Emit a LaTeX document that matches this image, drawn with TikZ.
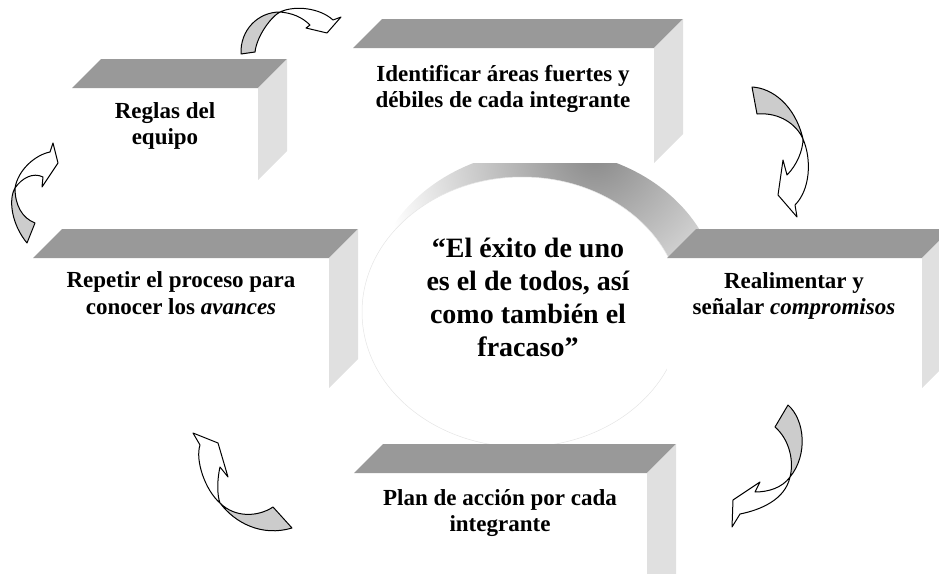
\documentclass[tikz,border=0pt]{standalone}
\usepackage{fontspec}
\setmainfont{Liberation Serif}
\definecolor{facetop}{HTML}{999999}
\definecolor{faceside}{HTML}{E0E0E0}
\definecolor{backside}{HTML}{CCCCCC}
\definecolor{ringdark}{HTML}{888888}
\usetikzlibrary{positioning}

\begin{document}
\begin{tikzpicture}[x=1pt,y=-1pt,
    boxtext/.style={font=\fontsize{23}{26.5}\selectfont\bfseries,align=center,inner sep=0pt},
    quotetext/.style={font=\fontsize{28}{33}\selectfont\bfseries,align=center,inner sep=0pt},
    bentarrow/.style={draw=black,line width=1pt,line join=round}]
    \useasboundingbox (0,0) rectangle (939,573);
    \clip (0,0) rectangle (939,573);
    % shaded disc behind the boxes
    \begin{scope}
        \clip (545,300) ellipse [x radius=175,y radius=150];
        \shade[inner color=ringdark,outer color=white] (595,150) circle (215);
    \end{scope}
    \fill[white] (522,312) ellipse [x radius=160,y radius=135];
    \draw[black!10,line width=0.5pt] (522,312) ellipse [x radius=160,y radius=135];
    % the five prisms: front, top and side faces
    \foreach \xa/\ya/\xb/\yb in {72/88/258/180, 353/48/654/163, 33/258/329/388, 667/258/922/388, 354/473/647/620}{
        \fill[white] (\xa,\ya) rectangle (\xb,\yb);
        \fill[facetop] (\xa,\ya) -- (\xb,\ya) -- (\xb+29,\ya-29) -- (\xa+29,\ya-29) -- cycle;
        \fill[faceside] (\xb,\ya) -- (\xb+29,\ya-29) -- (\xb+29,\yb-29) -- (\xb,\yb) -- cycle;
    }
    \node[boxtext] (reglas) at (165,126) {Reglas del\\equipo};
    \node[boxtext] (identificar) at (503,89) {Identificar áreas fuertes y\\débiles de cada integrante};
    \node[boxtext] (repetir) at (181,293) {Repetir el proceso para\\conocer los \textit{avances}};
    \node[boxtext] (realimentar) at (794,296) {Realimentar y\\señalar \textit{compromisos}};
    \node[boxtext] (plan) at (500,513) {Plan de acción por cada\\integrante};
    \node[quotetext] (lema) at (528,297) {“El éxito de uno\\es el de todos, así\\como también el\\fracaso”};
    % curved arrows, back of the band in gray
    \filldraw[bentarrow,fill=backside] (241,54) .. controls (240,30) and (258,12) .. (280,12) .. controls (272,16) and (257,35) .. (255,52) -- cycle;
    \filldraw[bentarrow,fill=white] (280,12) .. controls (295,5) and (320,8) .. (333,20) -- (341,17) -- (327,33) -- (306,28) -- (310,25) .. controls (302,17) and (292,13) .. (280,12) -- cycle;
    \filldraw[bentarrow,fill=backside] (752,87) .. controls (772,88) and (795,105) .. (803,139) .. controls (797,125) and (780,112) .. (757,114) -- cycle;
    \filldraw[bentarrow,fill=white] (803,139) .. controls (812,160) and (810,190) .. (795,205) -- (797,217) -- (778,195) -- (783,160) -- (787,175) .. controls (797,165) and (803,150) .. (803,139) -- cycle;
    \filldraw[bentarrow,fill=backside] (788,405) .. controls (805,420) and (808,455) .. (790,477) .. controls (794,462) and (790,440) .. (775,427) -- cycle;
    \filldraw[bentarrow,fill=white] (790,477) .. controls (782,488) and (768,492) .. (755,492) -- (760,482) -- (733,500) -- (732,527) -- (740,514) .. controls (760,510) and (785,500) .. (790,477) -- cycle;
    \filldraw[bentarrow,fill=backside] (273,507) .. controls (258,517) and (235,518) .. (220,503) .. controls (235,523) and (262,537) .. (292,528) -- cycle;
    \filldraw[bentarrow,fill=white] (220,503) .. controls (205,490) and (195,460) .. (200,445) -- (193,433) -- (218,443) -- (228,477) -- (220,467) .. controls (217,480) and (217,495) .. (220,503) -- cycle;
    \filldraw[bentarrow,fill=backside] (27,243) .. controls (12,225) and (8,200) .. (15,188) .. controls (15,205) and (22,218) .. (35,223) -- cycle;
    \filldraw[bentarrow,fill=white] (15,188) .. controls (18,170) and (35,155) .. (50,152) -- (53,143) -- (58,163) -- (42,187) -- (43,177) .. controls (33,172) and (22,178) .. (15,188) -- cycle;
\end{tikzpicture}
\end{document}
